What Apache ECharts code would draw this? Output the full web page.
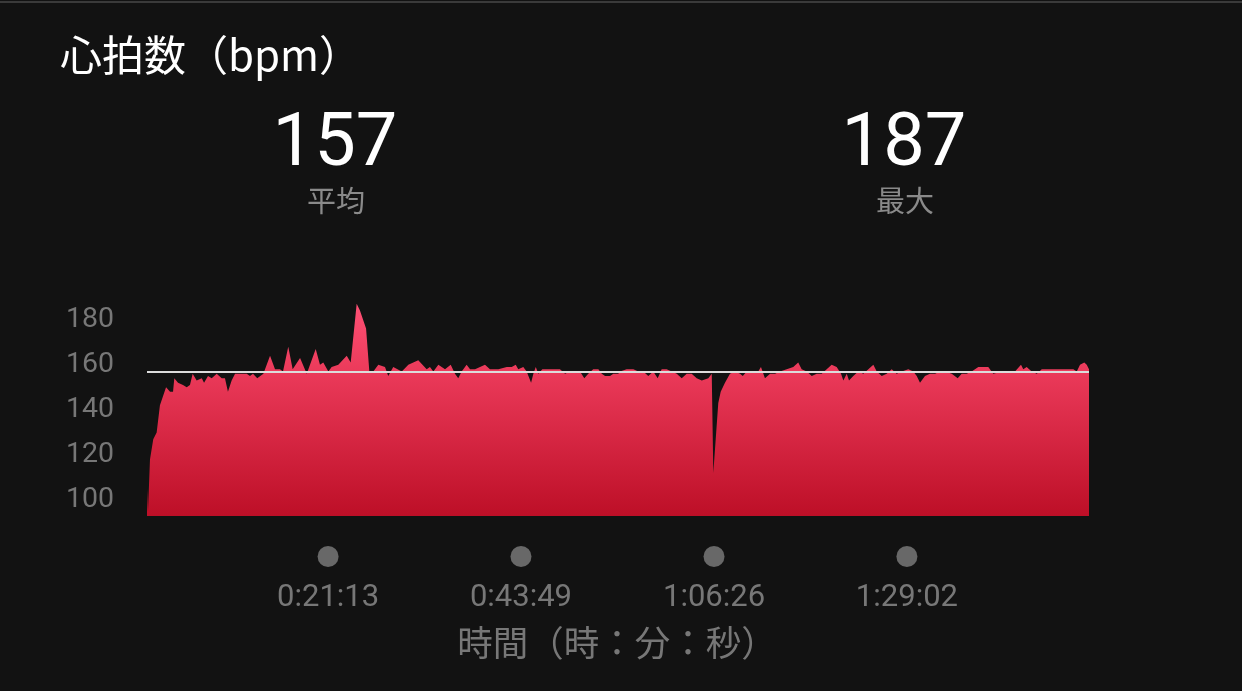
<!DOCTYPE html>
<html>
<head>
<meta charset="utf-8">
<script src="https://cdn.jsdelivr.net/npm/echarts@6/dist/echarts.min.js"></script>
<style>
  html, body { margin: 0; padding: 0; background: #121212; overflow: hidden; }
  #c { position: absolute; left: 0; top: 0; width: 1242px; height: 691px; }
  #topline { position: absolute; left: 0; top: 1px; width: 1242px; height: 2px; background: #3a3a3a; }
</style>
</head>
<body>
<div id="c"></div>
<div id="topline"></div>
<script>
// ---- data ----
const chartTitle = '心拍数（bpm）';
const axisTitle = '時間（時：分：秒）';
const statValues = [157, 187];
const statLabels = ['平均', '最大'];
const averageBpm = 157;
const bpmTicks = [100, 120, 140, 160, 180];
const timeTicks = [1273, 2629, 3986, 5342]; // seconds
const timeMax = 6622;

const timeSec = [
  0,7,21,44,68,91,103,134,162,183,
  192,218,253,279,302,321,349,385,401,429,
  455,490,525,548,569,595,619,654,701,724,
  745,775,818,865,900,935,956,993,1024,1076,
  1123,1186,1216,1239,1275,1298,1345,1404,1432,1474,
  1497,1540,1563,1591,1626,1673,1696,1731,1791,1837,
  1907,1966,1989,2013,2048,2095,2135,2165,2188,2212,
  2247,2271,2306,2341,2376,2411,2470,2529,2564,2592,
  2610,2645,2669,2700,2716,2733,2751,2779,2821,2868,
  2903,2939,2974,3009,3044,3074,3102,3137,3173,3197,
  3220,3255,3278,3313,3325,3372,3419,3454,3489,3524,
  3559,3590,3618,3653,3689,3724,3759,3794,3829,3864,
  3900,3946,3970,3981,4016,4033,4063,4098,4134,4169,
  4188,4216,4262,4297,4316,4344,4380,4415,4450,4497,
  4543,4578,4602,4638,4673,4708,4743,4778,4813,4848,
  4879,4895,4919,4935,4965,5000,5036,5071,5106,5130,
  5165,5200,5235,5270,5306,5352,5387,5411,5434,5469,
  5504,5540,5575,5610,5657,5699,5727,5762,5797,5844,
  5914,5949,6008,6067,6102,6144,6160,6184,6219,6255,
  6290,6383,6477,6512,6536,6559,6589,6606,6622
];
const bpm = [
  105,95,118,127,130,142,142,150,148,148,
  154,152,151,150,151,156,153,154,152,155,
  154,156,154,154,148,153,156,156,156,155,
  156,154,156,164,158,158,157,168,158,163,
  156,167,160,161,157,159,160,164,161,187,
  184,176,157,157,160,159,155,159,157,160,
  162,158,159,157,160,158,160,156,154,157,
  160,158,158,159,160,158,158,159,159,160,
  158,159,157,152,156,159,156,158,158,158,
  158,156,157,157,157,154,156,158,158,156,
  155,155,156,156,157,158,158,157,157,155,
  157,154,158,158,157,156,154,156,156,154,
  153,154,156,112,143,148,152,156,157,156,
  155,157,157,157,159,154,156,156,157,158,
  159,161,158,157,155,156,156,158,160,159,
  156,153,156,153,155,157,156,158,160,157,
  155,156,158,156,157,158,157,155,152,155,
  156,156,157,157,156,154,156,156,157,159,
  159,156,157,157,157,160,158,159,157,156,
  158,158,158,158,157,160,161,160,158
];

// ---- helpers ----
function pad2(n) { return (n < 10 ? '0' : '') + n; }
function fmtTime(v) {
  v = Math.round(v);
  const h = Math.floor(v / 3600), m = Math.floor((v % 3600) / 60), s = v % 60;
  return h + ':' + pad2(m) + ':' + pad2(s);
}

const CJK = '"Noto Sans CJK JP", "Noto Sans", sans-serif';
const NUM = 'Roboto, "Liberation Sans", sans-serif';
const statX = [335, 904];

const graphics = [
  { type: 'text', left: 60, top: 34, style: { text: chartTitle, fill: '#ffffff', font: '42px ' + CJK } },
  { type: 'text', x: 617, y: 643, style: { text: axisTitle, fill: '#777777', font: '35.5px ' + CJK, align: 'center', verticalAlign: 'middle' } }
];
statValues.forEach((v, i) => {
  graphics.push({ type: 'text', x: statX[i], y: 146, style: { text: String(v), fill: '#ffffff', font: '74px ' + NUM, align: 'center', verticalAlign: 'middle' } });
  graphics.push({ type: 'text', x: statX[i] + 1, y: 201, style: { text: statLabels[i], fill: '#8a8a8a', font: '29px ' + CJK, align: 'center', verticalAlign: 'middle' } });
});

const chart = echarts.init(document.getElementById('c'), null, { renderer: 'canvas' });
chart.setOption({
  backgroundColor: '#121212',
  animation: false,
  graphic: graphics,
  grid: { left: 147, right: 153, top: 297, height: 219, containLabel: false, outerBoundsMode: 'none' },
  xAxis: {
    type: 'value', min: 0, max: timeMax,
    axisLine: { show: false }, axisTick: { show: false }, splitLine: { show: false },
    axisLabel: {
      customValues: timeTicks,
      margin: 30,
      fontSize: 31,
      formatter: v => '{d| }\n{t|' + fmtTime(v) + '}',
      rich: {
        d: { width: 21, height: 21, lineHeight: 21, borderRadius: 10.5, backgroundColor: '#686868' },
        t: { fontSize: 31, color: '#777777', lineHeight: 63, fontFamily: NUM }
      }
    }
  },
  yAxis: {
    type: 'value', min: 93, max: 190,
    axisLine: { show: false }, axisTick: { show: false }, splitLine: { show: false },
    axisLabel: { customValues: bpmTicks, color: '#777777', fontSize: 28.5, fontFamily: NUM, margin: 33, padding: [10, 0, 0, 0] }
  },
  series: [{
    type: 'line',
    data: timeSec.map((t, i) => [t, bpm[i]]),
    showSymbol: false,
    symbol: 'none',
    smooth: false,
    lineStyle: { width: 0 },
    areaStyle: {
      opacity: 1,
      color: new echarts.graphic.LinearGradient(0, 0, 0, 1, [
        { offset: 0, color: '#ff5075' },
        { offset: 0.32, color: '#eb3a5a' },
        { offset: 1, color: '#bd0f27' }
      ])
    },
    markLine: {
      silent: true, symbol: 'none', animation: false,
      label: { show: false },
      lineStyle: { color: '#dcdcdc', width: 2, type: 'solid' },
      data: [{ yAxis: averageBpm }]
    }
  }]
});
</script>
</body>
</html>
